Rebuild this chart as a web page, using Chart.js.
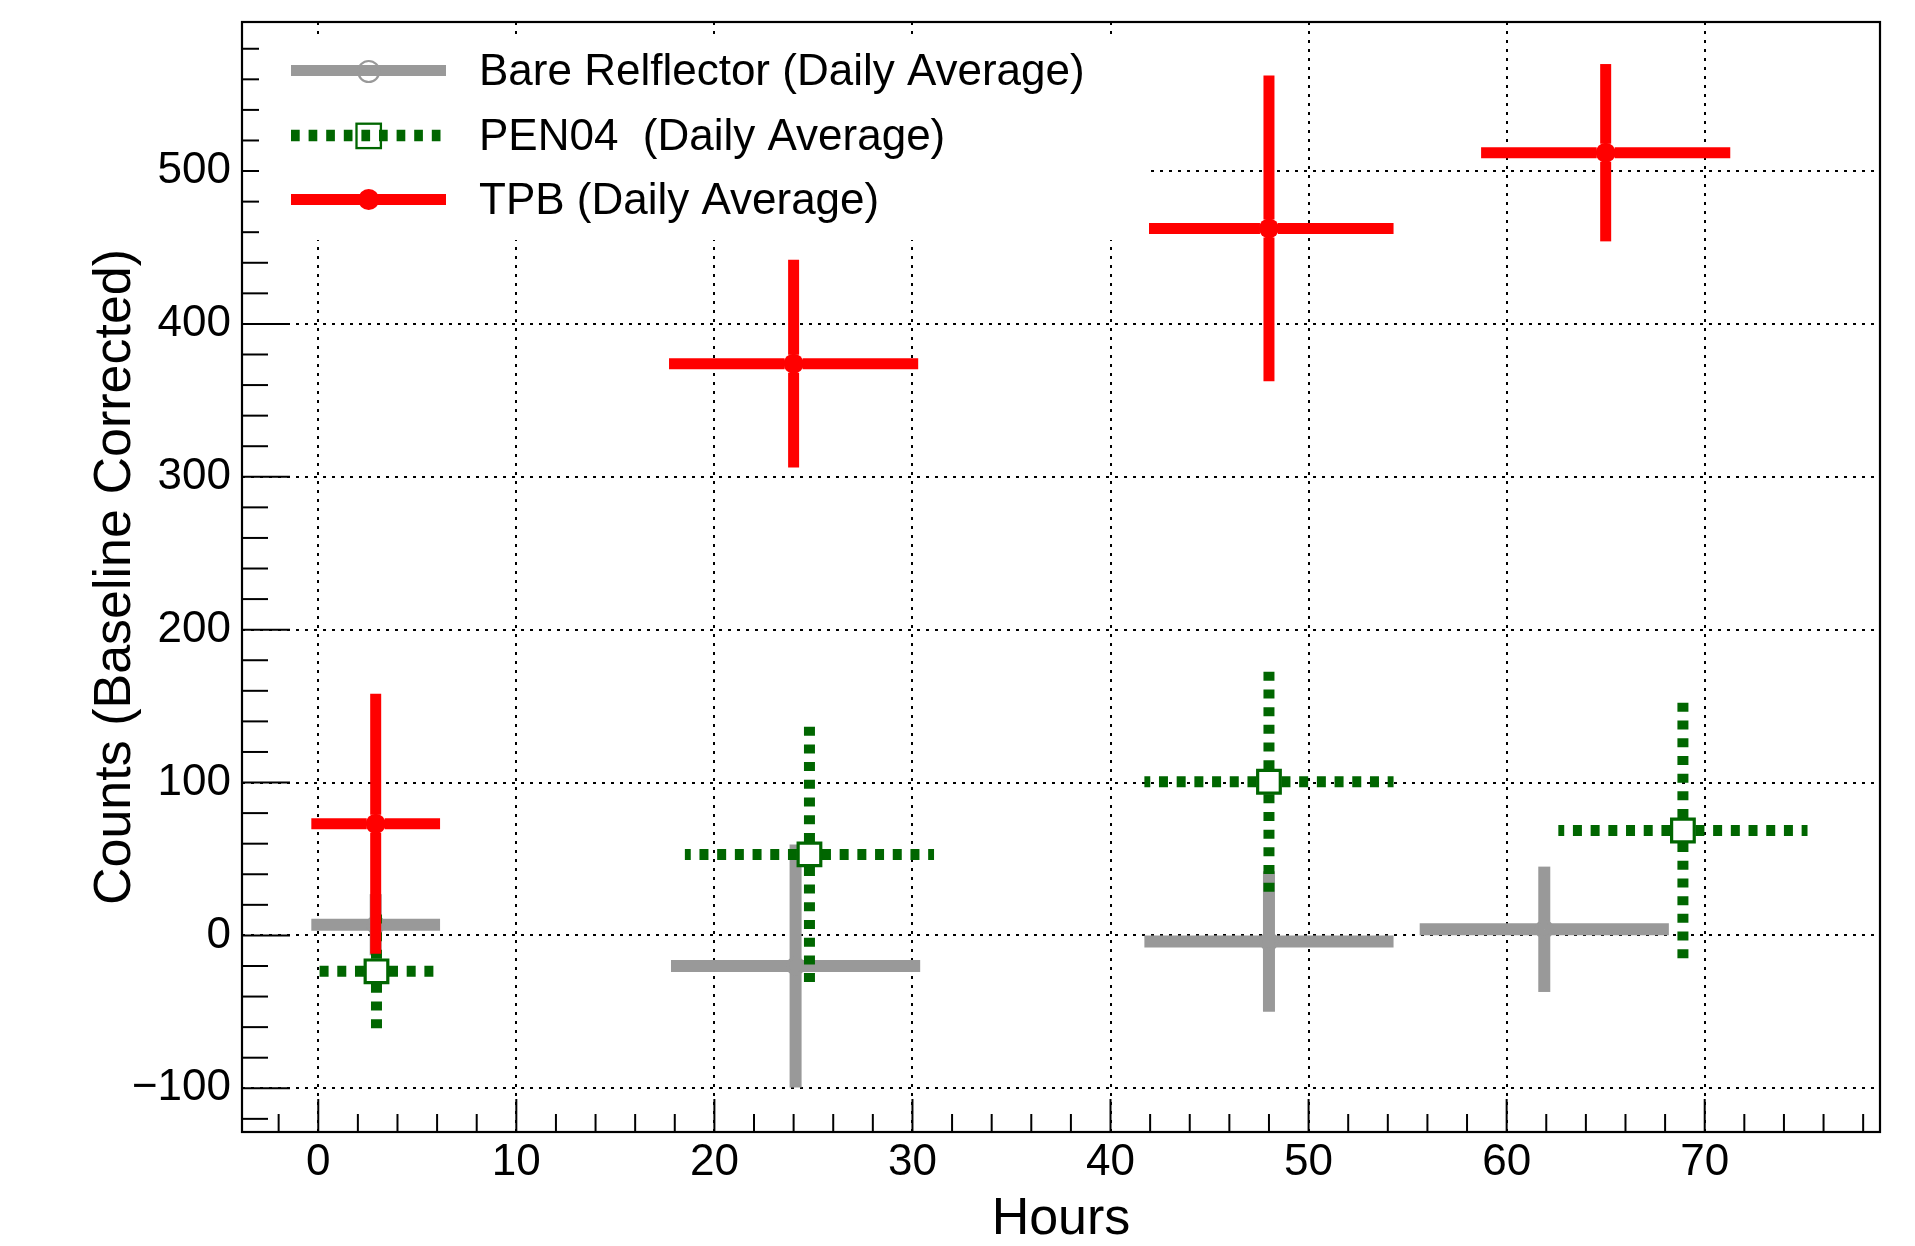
<!DOCTYPE html>
<html><head><meta charset="utf-8">
<script src="https://cdn.jsdelivr.net/npm/chart.js@4.4.0/dist/chart.umd.min.js"></script>
<style>html,body{margin:0;padding:0;background:#fff;overflow:hidden}#wrap{width:1915px;height:1246px;position:relative;background:#fff}</style>
</head><body><div id="wrap"><canvas id="c" width="1915" height="1246"></canvas></div>
<script>
// ---- data ----
const seriesNames = ["Bare Relflector (Daily Average)", "PEN04  (Daily Average)", "TPB (Daily Average)"];

const bareX    = [2.9, 24.1, 48.0, 61.9];
const bareY    = [7, -20, -4, 4];
const bareXErr = [3.25, 6.29, 6.29, 6.29];
const bareYErr = [20, 79.5, 46, 41];

const penX    = [2.94, 24.8, 48.0, 68.9];
const penY    = [-23.5, 53, 100.5, 68.6];
const penXErr = [3.25, 6.29, 6.29, 6.29];
const penYErr = [39, 85, 72, 89];

const tpbX    = [2.9, 24.0, 48.0, 65.0];
const tpbY    = [73, 374, 462.5, 512];
const tpbXErr = [3.25, 6.29, 6.29, 6.29];
const tpbYErr = [85, 68, 100, 58];

const xTickValues = [0, 10, 20, 30, 40, 50, 60, 70];
const xTickLabels = ["0", "10", "20", "30", "40", "50", "60", "70"];
const yTickValues = [-100, 0, 100, 200, 300, 400, 500];
const yTickLabels = ["\u2212100", "0", "100", "200", "300", "400", "500"];
const xTitle = "Hours";
const yTitle = "Counts (Baseline Corrected)";

// ---- styles ----
const FONT = "'Liberation Sans', Arial, Helvetica, sans-serif";
const GRAY = "#999999", GREEN = "#006600", RED = "#ff0000";
Chart.defaults.font.family = FONT;

const errSets = [
  {xs: bareX, ys: bareY, xe: bareXErr, ye: bareYErr, color: GRAY, width: 12, dash: [], gap: 0},
  {xs: penX, ys: penY, xe: penXErr, ye: penYErr, color: GREEN, width: 11, dash: [9, 8.7], gap: 12.5},
  {xs: tpbX, ys: tpbY, xe: tpbXErr, ye: tpbYErr, color: RED, width: 11, dash: [], gap: 9}
];

function pts(xs, ys) { return xs.map((x, i) => ({x: x, y: ys[i]})); }

const errPlugin = {
  id: 'errbars',
  beforeDatasetDraw(chart, args) {
    const s = errSets[args.index];
    if (!s) return;
    const xs = chart.scales.x, ys = chart.scales.y, ctx = chart.ctx;
    ctx.save();
    ctx.strokeStyle = s.color;
    ctx.lineWidth = s.width;
    ctx.lineCap = 'butt';
    ctx.setLineDash(s.dash);
    const seg = (x0, y0, x1, y1) => {
      ctx.lineDashOffset = 0;
      ctx.beginPath(); ctx.moveTo(x0, y0); ctx.lineTo(x1, y1); ctx.stroke();
    };
    for (let j = 0; j < s.xs.length; j++) {
      const px = xs.getPixelForValue(s.xs[j]), py = ys.getPixelForValue(s.ys[j]);
      const xl = xs.getPixelForValue(s.xs[j] - s.xe[j]), xr = xs.getPixelForValue(s.xs[j] + s.xe[j]);
      const yt = ys.getPixelForValue(s.ys[j] + s.ye[j]), yb = ys.getPixelForValue(s.ys[j] - s.ye[j]);
      const g = s.gap;
      seg(px - g, py, xl, py);
      seg(px + g, py, xr, py);
      seg(px, py - g, px, yt);
      seg(px, py + g, px, yb);
    }
    ctx.restore();
  }
};

const framePlugin = {
  id: 'frame',
  afterDraw(chart) {
    const ctx = chart.ctx, ca = chart.chartArea, xs = chart.scales.x, ys = chart.scales.y;
    ctx.save();
    ctx.strokeStyle = '#000';
    ctx.lineWidth = 2;
    ctx.setLineDash([]);
    // y ticks (inward, left axis)
    for (let v = -120; v <= 590; v += 20) {
      const p = ys.getPixelForValue(v);
      if (p < ca.top || p > ca.bottom) continue;
      const len = (v % 100 === 0) ? 48 : 26;
      ctx.beginPath(); ctx.moveTo(ca.left, p); ctx.lineTo(ca.left + len, p); ctx.stroke();
    }
    // x ticks (inward, bottom axis)
    for (let v = -2; v <= 78; v += 2) {
      const p = xs.getPixelForValue(v);
      if (p < ca.left || p > ca.right) continue;
      const len = (v % 10 === 0) ? 33 : 18;
      ctx.beginPath(); ctx.moveTo(p, ca.bottom); ctx.lineTo(p, ca.bottom - len); ctx.stroke();
    }
    // legend box
    ctx.fillStyle = '#fff';
    ctx.fillRect(259, 35, 890, 205);
    const rows = [70.5, 135.5, 199.5];
    const lx0 = 291, lx1 = 446, mx = 368.7;
    // gray entry
    ctx.strokeStyle = GRAY; ctx.lineWidth = 11;
    ctx.beginPath(); ctx.moveTo(lx0, rows[0]); ctx.lineTo(lx1, rows[0]); ctx.stroke();
    ctx.lineWidth = 2.2;
    ctx.beginPath(); ctx.arc(mx, rows[0] + 1, 10.5, 0, Math.PI * 2); ctx.stroke();
    // green entry
    ctx.strokeStyle = GREEN; ctx.lineWidth = 11.5; ctx.setLineDash([8.7, 8.9]);
    ctx.beginPath(); ctx.moveTo(lx0, rows[1]); ctx.lineTo(lx1, rows[1]); ctx.stroke();
    ctx.setLineDash([]); ctx.lineWidth = 2.3;
    ctx.strokeRect(mx - 12.2, rows[1] - 11.8, 24.4, 24.4);
    // red entry
    ctx.strokeStyle = RED; ctx.lineWidth = 11;
    ctx.beginPath(); ctx.moveTo(lx0, rows[2]); ctx.lineTo(lx1, rows[2]); ctx.stroke();
    ctx.fillStyle = RED;
    ctx.beginPath(); ctx.arc(mx, rows[2], 10.5, 0, Math.PI * 2); ctx.fill();
    // legend text
    ctx.fillStyle = '#000';
    ctx.font = "44px " + FONT;
    ctx.textAlign = 'left'; ctx.textBaseline = 'middle';
    for (let k = 0; k < seriesNames.length; k++) ctx.fillText(seriesNames[k], 479, rows[k] + 2);
    // frame
    ctx.strokeStyle = '#000'; ctx.lineWidth = 2.2;
    ctx.strokeRect(ca.left, ca.top, ca.right - ca.left, ca.bottom - ca.top);
    ctx.restore();
  }
};

const ctx = document.getElementById('c').getContext('2d');
new Chart(ctx, {
  type: 'scatter',
  data: {
    datasets: [
      {label: seriesNames[0], data: pts(bareX, bareY), order: 3, pointStyle: 'circle', pointRadius: 8,
       pointBorderWidth: 3, pointBorderColor: GRAY, pointBackgroundColor: 'rgba(0,0,0,0)', showLine: false},
      {label: seriesNames[1], data: pts(penX, penY), order: 2, pointStyle: 'rect', pointRadius: 16,
       pointBorderWidth: 3.2, pointBorderColor: GREEN, pointBackgroundColor: '#ffffff', showLine: false},
      {label: seriesNames[2], data: pts(tpbX, tpbY), order: 1, pointStyle: 'circle', pointRadius: 10,
       pointBorderWidth: 0, pointBorderColor: RED, pointBackgroundColor: RED, showLine: false}
    ]
  },
  options: {
    responsive: false,
    animation: false,
    devicePixelRatio: 1,
    events: [],
    layout: {padding: {top: 22, right: 35, left: 0, bottom: 0}},
    plugins: {legend: {display: false}, tooltip: {enabled: false}},
    scales: {
      x: {
        type: 'linear', position: 'bottom', min: -3.85, max: 78.85, bounds: 'data',
        afterBuildTicks: s => { s.ticks = xTickValues.map(v => ({value: v})); },
        afterFit: s => { s.height = 114; s.paddingLeft = 0; s.paddingRight = 0; },
        ticks: {callback: (v, i) => xTickLabels[i], font: {size: 44, lineHeight: 1}, color: '#000',
                padding: 9, maxRotation: 0, minRotation: 0, autoSkip: false},
        grid: {color: '#000', lineWidth: 2, drawTicks: false},
        border: {display: false, dash: [3, 6]},
        title: {display: true, text: xTitle, color: '#000', font: {size: 52, lineHeight: 1}, padding: {top: 0, bottom: 0}}
      },
      y: {
        type: 'linear', position: 'left', min: -128.6, max: 597.5, bounds: 'data',
        afterBuildTicks: s => { s.ticks = yTickValues.map(v => ({value: v})); },
        afterFit: s => { s.width = 242; s.paddingTop = 0; s.paddingBottom = 0; },
        ticks: {callback: (v, i) => yTickLabels[i], font: {size: 44, lineHeight: 1}, color: '#000',
                padding: 11, autoSkip: false},
        grid: {color: '#000', lineWidth: 2, drawTicks: false},
        border: {display: false, dash: [3, 6]},
        title: {display: true, text: yTitle, color: '#000', font: {size: 52, lineHeight: 1}, padding: {top: 90, bottom: 0}}
      }
    }
  },
  plugins: [errPlugin, framePlugin]
});
</script>
</body></html>
